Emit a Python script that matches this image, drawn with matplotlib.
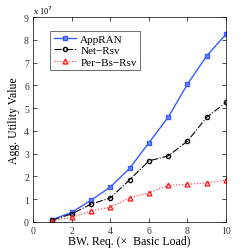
import numpy as np
from matplotlib import pyplot as plt

plt.rcParams['font.family'] = ['Liberation Serif', 'DejaVu Serif']

# Data (units of 1e7)
bw_req = [1, 2, 3, 4, 5, 6, 7, 8, 9, 10]
appran = [0.10, 0.42, 0.95, 1.53, 2.35, 3.48, 4.60, 6.05, 7.30, 8.25]
net_rsv = [0.08, 0.35, 0.78, 1.05, 1.85, 2.68, 2.90, 3.55, 4.60, 5.25]
per_bs_rsv = [0.05, 0.20, 0.48, 0.65, 1.05, 1.28, 1.60, 1.65, 1.72, 1.83]

fig = plt.figure(figsize=(2.49, 2.51), dpi=100)
ax = fig.add_axes([0.133, 0.112, 0.775, 0.816])

scale = 1e7
ax.plot(bw_req, np.array(appran) * scale, '-s', color='#3a5cff', lw=1.0,
        ms=3, mfc='#6f86ff', mec='#3a5cff', label='AppRAN')
ax.plot(bw_req, np.array(net_rsv) * scale, '-.o', color='black', lw=0.8,
        ms=3, mfc='none', mec='black', label='Net\u2212Rsv')
ax.plot(bw_req, np.array(per_bs_rsv) * scale, ':^', color='#ff3030', lw=0.8,
        ms=3.5, mfc='none', mec='#ff2020', label='Per\u2212Bs\u2212Rsv')

ax.set_xlim(0, 10)
ax.set_ylim(0, 9e7)
ax.set_xticks([0, 2, 4, 6, 8, 10])
ax.set_yticks(np.arange(0, 10) * scale)
ax.set_yticklabels([str(i) for i in range(10)])
ax.tick_params(direction='in', top=True, right=True, labelsize=7, length=3,
               width=0.5, pad=3, labelcolor='#333333')
for s in ax.spines.values():
    s.set_linewidth(0.5)
ax.text(0.0, 1.005, r'x 10$^7$', transform=ax.transAxes, fontsize=6,
        va='bottom', ha='left')

ax.set_xlabel('BW. Req. (\u00d7  Basic Load)', fontsize=8.5, labelpad=0)
ax.set_ylabel('Agg. Utility Value', fontsize=8.5, labelpad=3)

leg = ax.legend(loc='upper left', bbox_to_anchor=(0.06, 0.96), fontsize=8,
                frameon=True, fancybox=False, edgecolor='black',
                handlelength=2.0, borderpad=0.3, labelspacing=0.15,
                handletextpad=0.4)
leg.get_frame().set_linewidth(0.5)

fig.savefig('out.png', dpi=100)
